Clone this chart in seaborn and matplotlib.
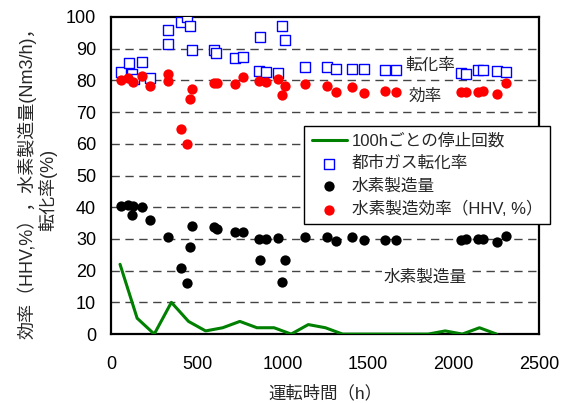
import matplotlib
matplotlib.use("Agg")
import matplotlib.pyplot as plt
import seaborn as sns
import pandas as pd

# 100h毎の停止回数
stop_hours = [50, 150, 250, 350, 450, 550, 650, 750, 850, 950, 1050, 1150,
              1250, 1350, 1450, 1550, 1650, 1750, 1850, 1950, 2050, 2150, 2250]
stop_counts = [22, 5, 0, 10, 4, 1, 2, 4, 2, 2, 0, 3, 2, 0, 0, 0, 0, 0, 0, 1, 0, 2, 0]

# 都市ガス転化率
conv_hours = [55, 102, 121, 130, 181, 228, 330, 330, 404, 441, 460, 470, 598, 612,
              724, 766, 867, 863, 902, 974, 999, 1011, 1130, 1261, 1309, 1406,
              1474, 1596, 1662, 2045, 2074, 2142, 2172, 2255, 2307]
conv_rate = [82.7, 85.6, 81.9, 80.3, 85.9, 80.9, 95.9, 91.5, 98.5, 99.9, 97.2, 89.6,
             89.6, 88.7, 87.2, 87.5, 93.8, 83.0, 82.6, 82.4, 97.2, 92.7, 84.2, 84.3,
             83.5, 83.5, 83.5, 83.3, 83.3, 82.2, 81.9, 83.3, 83.3, 83.1, 82.7]

# 水素製造量
h2_hours = [55, 98, 127, 121, 181, 228, 330, 404, 441, 458, 470, 598, 615, 724,
            766, 863, 902, 869, 974, 1011, 999, 1130, 1261, 1309, 1406, 1474,
            1596, 1662, 2045, 2074, 2142, 2172, 2255, 2307]
h2_amount = [40.5, 40.7, 40.4, 37.5, 40.2, 36.0, 30.7, 20.7, 16.0, 27.5, 34.1, 33.7,
             33.0, 32.3, 32.3, 30.0, 30.0, 23.3, 30.4, 23.3, 16.5, 30.5, 30.7, 29.4,
             30.5, 29.8, 29.8, 29.8, 29.8, 30.0, 30.1, 30.1, 29.1, 31.0]

# 水素製造効率(HHV, %)
eff_hours = [55, 98, 127, 181, 228, 330, 330, 404, 441, 470, 458, 598, 615, 724,
             766, 863, 902, 974, 1011, 999, 1130, 1261, 1309, 1406, 1474, 1596,
             1662, 2045, 2074, 2142, 2172, 2255, 2307]
eff_rate = [80.1, 80.6, 79.6, 81.5, 78.3, 81.9, 79.9, 64.6, 59.8, 77.3, 74.0, 79.3,
            79.1, 78.9, 81.2, 79.8, 79.4, 80.3, 78.2, 75.5, 78.8, 78.2, 76.4, 77.8,
            76.1, 76.8, 76.4, 76.4, 76.4, 76.4, 76.8, 75.7, 79.1]

labels = ["100hごとの停止回数", "都市ガス転化率", "水素製造量", "水素製造効率（HHV, %）"]
ylabel_lines = ["効率（HHV,%），水素製造量(Nm3/h)，", "転化率(%)"]

sns.set_theme(style="white")
plt.rcParams["font.family"] = ["Liberation Sans", "Noto Sans CJK JP", "DejaVu Sans"]

fig = plt.figure(figsize=(5.63, 4.03), dpi=100)
ax = fig.add_axes([0.198, 0.171, 0.76, 0.787])

for yv in range(10, 100, 10):
    ax.axhline(yv, color="#444444", lw=1.0, ls=(0, (6, 4)), zorder=0)

df_stop = pd.DataFrame({"h": stop_hours, "v": stop_counts})
df_conv = pd.DataFrame({"h": conv_hours, "v": conv_rate})
df_h2 = pd.DataFrame({"h": h2_hours, "v": h2_amount})
df_eff = pd.DataFrame({"h": eff_hours, "v": eff_rate})

sns.lineplot(data=df_stop, x="h", y="v", ax=ax, color="#008000", lw=2.2,
             label=labels[0], zorder=3)
sns.scatterplot(data=df_conv, x="h", y="v", ax=ax, marker="s", s=50,
                facecolor="white", edgecolor="#0000ff", linewidth=1.0,
                label=labels[1], zorder=4)
sns.scatterplot(data=df_h2, x="h", y="v", ax=ax, marker="o", s=55,
                color="black", edgecolor="black", linewidth=0,
                label=labels[2], zorder=5)
sns.scatterplot(data=df_eff, x="h", y="v", ax=ax, marker="o", s=55,
                color="#ff0000", edgecolor="#ff0000", linewidth=0,
                label=labels[3], zorder=6)

ax.set_xlim(0, 2500)
ax.set_ylim(0, 100)
ax.set_xticks([0, 500, 1000, 1500, 2000, 2500])
ax.set_yticks(range(0, 101, 10))
ax.tick_params(axis="both", direction="in", length=5, width=1, labelsize=13,
               colors="black")
ax.tick_params(axis="x", pad=16)
ax.tick_params(axis="y", length=0, pad=11)
for sp in ax.spines.values():
    sp.set_color("black")
    sp.set_linewidth(1.6)

ax.set_xlabel("運転時間（h）", fontsize=12.5, labelpad=8)
ax.set_ylabel("")
fig.text(0.048, 0.556, ylabel_lines[0], rotation=90, fontsize=13,
         ha="center", va="center")
fig.text(0.084, 0.529, ylabel_lines[1], rotation=90, fontsize=13,
         ha="center", va="center")

ax.text(1862, 84.9, "転化率", fontsize=12, ha="center", va="center", zorder=7)
ax.text(1832, 74.9, "効率", fontsize=12, ha="center", va="center", zorder=7)
ax.text(1832, 18.1, "水素製造量", fontsize=12, ha="center", va="center", zorder=7,
        bbox=dict(facecolor="white", edgecolor="none", pad=1))

leg = ax.legend(loc="upper left", bbox_to_anchor=(0.45, 0.656), fontsize=12,
                frameon=True, fancybox=False, edgecolor="black", framealpha=1,
                borderpad=0.45, labelspacing=0.42, handlelength=2.1,
                handletextpad=0.3, borderaxespad=0)
leg.get_frame().set_linewidth(1.0)
leg.set_zorder(8)

fig.savefig("out.png", dpi=100)
